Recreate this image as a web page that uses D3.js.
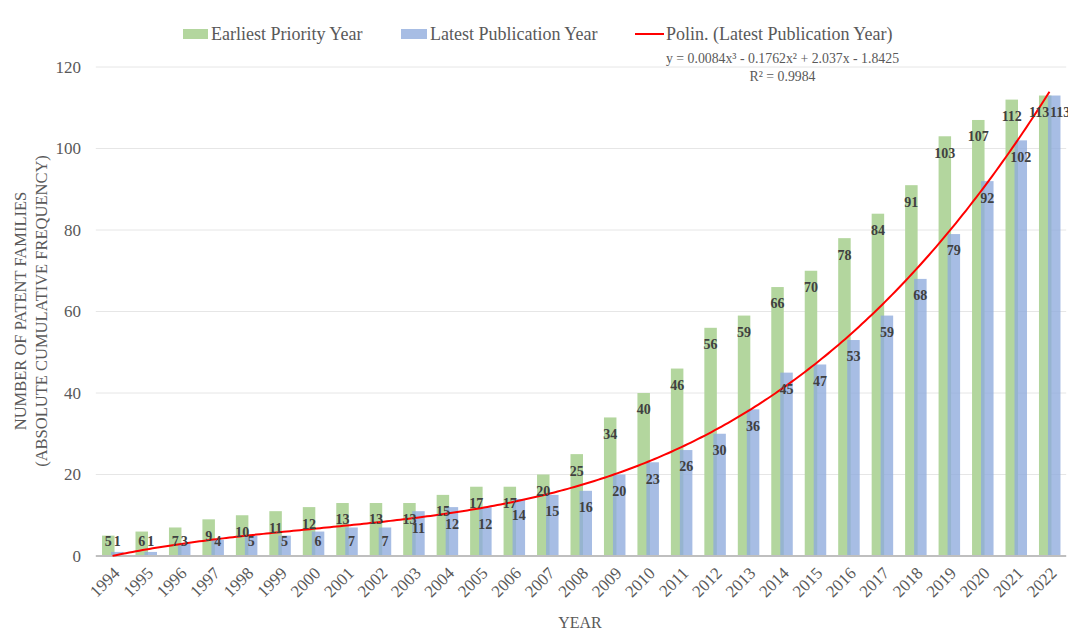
<!DOCTYPE html>
<html>
<head>
<meta charset="utf-8">
<script src="https://cdn.jsdelivr.net/npm/d3@7"></script>
<style>
  html, body { margin: 0; padding: 0; background: #fff; }
  svg { display: block; font-family: "Liberation Serif", "DejaVu Serif", serif; }
</style>
</head>
<body>
<svg id="chart" width="1068" height="641"></svg>
<script>
// ---- data ----
const years = ["1994","1995","1996","1997","1998","1999","2000","2001","2002","2003","2004","2005","2006","2007","2008","2009","2010","2011","2012","2013","2014","2015","2016","2017","2018","2019","2020","2021","2022"];
const earliestPriority = [5,6,7,9,10,11,12,13,13,13,15,17,17,20,25,34,40,46,56,59,66,70,78,84,91,103,107,112,113];
const latestPublication = [1,1,3,4,5,5,6,7,7,11,12,12,14,15,16,20,23,26,30,36,45,47,53,59,68,79,92,102,113];
const yTicks = [0,20,40,60,80,100,120];
// polynomial trend of Latest Publication Year as printed on the chart: c3, c2, c1, c0
const trendCoefficients = [0.0084, -0.1762, 2.037, -1.8425];
const seriesNames = ["Earliest Priority Year", "Latest Publication Year", "Polin. (Latest Publication Year)"];
const equationText = ["y = 0.0084x³ - 0.1762x² + 2.037x - 1.8425", "R² = 0.9984"];

// ---- layout ----
const svg = d3.select("#chart");
const plotLeft = 95.8, plotRight = 1066.2, plotTop = 67, plotBottom = 556;
const x = d3.scaleBand().domain(years).range([plotLeft, plotRight]).padding(0);
const y = d3.scaleLinear().domain([0, 120]).range([plotBottom, plotTop]);
const cx = d => x(d) + x.bandwidth() / 2;

const green = "#b3d69e";
const blue = "#8eaadc";
const labelColor = "#404040";
const axisColor = "#595959";

// gridlines
svg.append("g").selectAll("line").data(yTicks.filter(t => t > 0)).join("line")
  .attr("x1", plotLeft).attr("x2", plotRight)
  .attr("y1", d => y(d)).attr("y2", d => y(d))
  .attr("stroke", "#e6e6e6").attr("stroke-width", 1);

// y tick labels
svg.append("g").selectAll("text").data(yTicks).join("text")
  .attr("x", 81).attr("y", d => y(d)).attr("dy", "0.35em")
  .attr("text-anchor", "end").attr("font-size", 17).attr("fill", axisColor)
  .text(d => d);

// bars
const gW = 12.5;
svg.append("g").selectAll("rect").data(years).join("rect")
  .attr("x", (d) => cx(d) - 10.5).attr("width", gW)
  .attr("y", (d, i) => y(earliestPriority[i]))
  .attr("height", (d, i) => plotBottom - y(earliestPriority[i]))
  .attr("fill", green);
svg.append("g").selectAll("rect").data(years).join("rect")
  .attr("x", (d) => cx(d) - 1.5).attr("width", gW)
  .attr("y", (d, i) => y(latestPublication[i]))
  .attr("height", (d, i) => plotBottom - y(latestPublication[i]))
  .attr("fill", blue).attr("fill-opacity", 0.78);

// baseline
svg.append("line").attr("x1", plotLeft).attr("x2", plotRight)
  .attr("y1", plotBottom).attr("y2", plotBottom)
  .attr("stroke", "#bfbfbf").attr("stroke-width", 2);

// trend line
const step = x.step();
const poly = t => trendCoefficients[0]*t*t*t + trendCoefficients[1]*t*t + trendCoefficients[2]*t + trendCoefficients[3];
const ts = d3.range(1, years.length + 0.001, 0.1);
const line = d3.line()
  .x(t => cx(years[0]) + (t - 1) * step)
  .y(t => y(poly(t)))
  .curve(d3.curveLinear);
svg.append("path").datum(ts).attr("d", line)
  .attr("fill", "none").attr("stroke", "#ff0000").attr("stroke-width", 2);

// data labels (nudged apart when two wide labels sit at the same height)
const labelY = v => Math.min(y(v) + 16.5, 541.5);
const nudge = i => {
  const a = String(earliestPriority[i]), b = String(latestPublication[i]);
  return (a.length >= 3 && b.length >= 3 && Math.abs(labelY(earliestPriority[i]) - labelY(latestPublication[i])) < 10) ? 6 : 0;
};
svg.append("g").selectAll("text").data(years).join("text")
  .attr("x", (d, i) => cx(d) - 4.25 - nudge(i))
  .attr("y", (d, i) => labelY(earliestPriority[i])).attr("dy", "0.35em")
  .attr("text-anchor", "middle").attr("font-size", 14).attr("font-weight", "bold")
  .attr("fill", labelColor).text((d, i) => earliestPriority[i]);
svg.append("g").selectAll("text").data(years).join("text")
  .attr("x", (d, i) => cx(d) + 4.75 + nudge(i))
  .attr("y", (d, i) => labelY(latestPublication[i])).attr("dy", "0.35em")
  .attr("text-anchor", "middle").attr("font-size", 14).attr("font-weight", "bold")
  .attr("fill", labelColor).text((d, i) => latestPublication[i]);

// x tick labels
svg.append("g").selectAll("text").data(years).join("text")
  .attr("transform", d => `translate(${cx(d) + 4},${570}) rotate(-45)`)
  .attr("text-anchor", "end").attr("dy", "0.35em")
  .attr("font-size", 17).attr("fill", axisColor).text(d => d);

// axis titles
svg.append("text").attr("x", 580).attr("y", 628).attr("text-anchor", "middle")
  .attr("font-size", 16).attr("fill", axisColor).text("YEAR");
const yt = svg.append("text").attr("transform", "translate(0,311) rotate(-90)")
  .attr("text-anchor", "middle").attr("font-size", 16.5).attr("fill", axisColor);
yt.append("tspan").attr("x", 0).attr("y", 26).text("NUMBER OF PATENT FAMILIES");
yt.append("tspan").attr("x", 0).attr("y", 47).text("(ABSOLUTE CUMULATIVE FREQUENCY)");

// legend
const lg = svg.append("g").attr("font-size", 18).attr("fill", axisColor);
lg.append("rect").attr("x", 183).attr("y", 29).attr("width", 25).attr("height", 10).attr("fill", green);
lg.append("text").attr("x", 211).attr("y", 34).attr("dy", "0.35em").text(seriesNames[0]);
lg.append("rect").attr("x", 401).attr("y", 29).attr("width", 26).attr("height", 10).attr("fill", blue).attr("fill-opacity", 0.78);
lg.append("text").attr("x", 430).attr("y", 34).attr("dy", "0.35em").text(seriesNames[1]);
lg.append("line").attr("x1", 635).attr("x2", 664).attr("y1", 34).attr("y2", 34).attr("stroke", "#ff0000").attr("stroke-width", 2);
lg.append("text").attr("x", 666).attr("y", 34).attr("dy", "0.35em").text(seriesNames[2]);

// equation
svg.append("text").attr("x", 782.5).attr("y", 58.3).attr("dy", "0.35em").attr("text-anchor", "middle")
  .attr("font-size", 13.8).attr("fill", axisColor).text(equationText[0]);
svg.append("text").attr("x", 782.5).attr("y", 76).attr("dy", "0.35em").attr("text-anchor", "middle")
  .attr("font-size", 13.8).attr("fill", axisColor).text(equationText[1]);
</script>
</body>
</html>
